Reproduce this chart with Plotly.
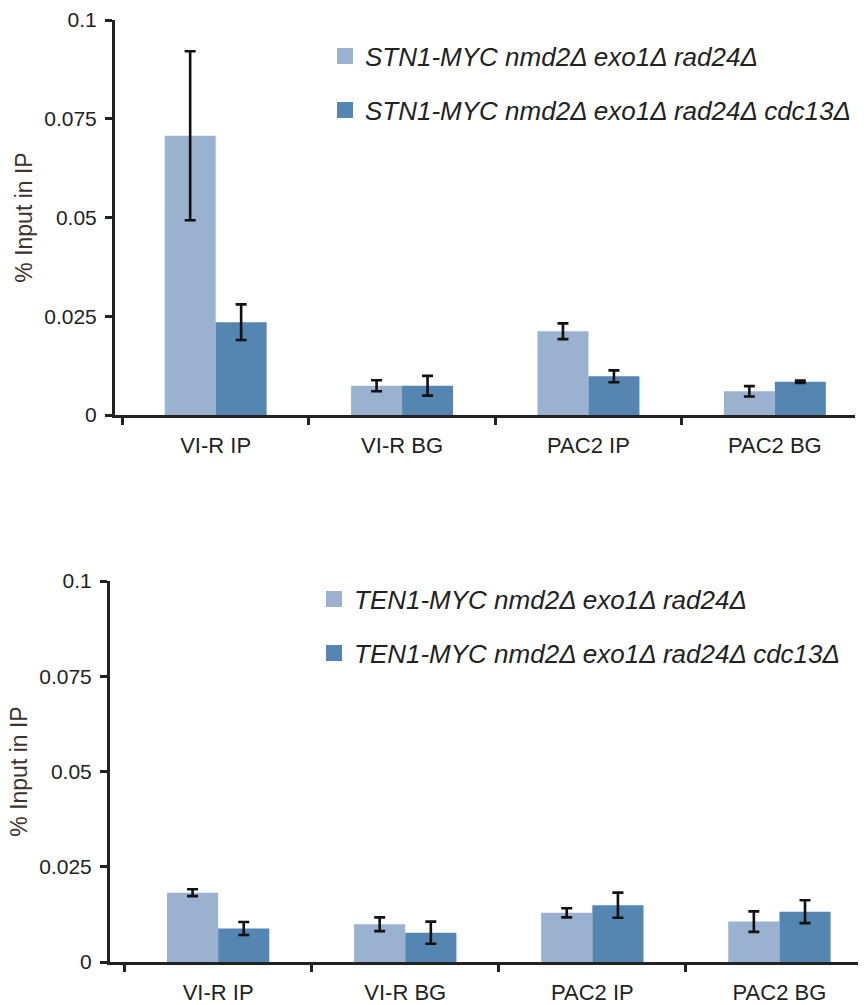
import plotly.graph_objects as go
from plotly.subplots import make_subplots

categories = ["VI-R IP", "VI-R BG", "PAC2 IP", "PAC2 BG"]

# Top panel (STN1-MYC)
stn1_names = ["<i>STN1-MYC nmd2Δ exo1Δ rad24Δ</i>",
              "<i>STN1-MYC nmd2Δ exo1Δ rad24Δ cdc13Δ</i>"]
stn1_ctrl = [0.0707, 0.0074, 0.0212, 0.0060]
stn1_ctrl_err = [0.0214, 0.0014, 0.0020, 0.0013]
stn1_cdc13 = [0.0235, 0.0074, 0.0098, 0.0084]
stn1_cdc13_err = [0.0045, 0.0025, 0.0015, 0.0003]

# Bottom panel (TEN1-MYC)
ten1_names = ["<i>TEN1-MYC nmd2Δ exo1Δ rad24Δ</i>",
              "<i>TEN1-MYC nmd2Δ exo1Δ rad24Δ cdc13Δ</i>"]
ten1_ctrl = [0.0182, 0.0099, 0.0129, 0.0106]
ten1_ctrl_err = [0.0009, 0.0018, 0.0012, 0.0027]
ten1_cdc13 = [0.0088, 0.0077, 0.0149, 0.0132]
ten1_cdc13_err = [0.0017, 0.0029, 0.0033, 0.0030]

y_ticks = [0, 0.025, 0.05, 0.075, 0.1]
y_ticktext = ["0", "0.025", "0.05", "0.075", "0.1"]
y_title = "% Input in IP"

LIGHT = "#9ab2cf"
DARK = "#5585b1"
INK = "#222222"
FONT = "Liberation Sans, Arial, sans-serif"

W, H = 867, 1005

fig = make_subplots(rows=2, cols=1)

panels = [
    (1, stn1_names, stn1_ctrl, stn1_ctrl_err, stn1_cdc13, stn1_cdc13_err, ["legend", "legend2"]),
    (2, ten1_names, ten1_ctrl, ten1_ctrl_err, ten1_cdc13, ten1_cdc13_err, ["legend3", "legend4"]),
]

for row, names, v1, e1, v2, e2, legs in panels:
    for vals, errs, col, nm, leg in [(v1, e1, LIGHT, names[0], legs[0]),
                                     (v2, e2, DARK, names[1], legs[1])]:
        fig.add_trace(go.Bar(
            x=categories, y=vals, marker=dict(color=col, line=dict(width=0)),
            error_y=dict(type="data", array=errs, visible=True, color="#111111",
                         thickness=2.6, width=5.5),
            showlegend=False, name=nm,
        ), row=row, col=1)
        # legend proxy (larger square swatch)
        fig.add_trace(go.Scatter(
            x=[None], y=[None], mode="markers", name=nm,
            marker=dict(symbol="square", size=22, color=col),
            showlegend=True, legend=leg,
        ), row=row, col=1)


def px_x(p):
    return p / W


def px_y(p):
    return 1 - p / H


def leg(xp, yp):
    return dict(x=px_x(xp), y=px_y(yp), xanchor="left", yanchor="middle",
                font=dict(size=26, color=INK), bgcolor="rgba(0,0,0,0)",
                itemwidth=30)


fig.update_layout(
    width=W, height=H,
    margin=dict(l=0, r=0, t=0, b=0),
    paper_bgcolor="white", plot_bgcolor="white",
    barmode="group", bargap=0.453, bargroupgap=0,
    font=dict(family=FONT, color=INK, size=20),
    legend=leg(325, 56),
    legend2=leg(325, 110),
    legend3=leg(314, 599),
    legend4=leg(314, 653),
)

axis_common = dict(showline=True, linecolor=INK, linewidth=3, showgrid=False,
                   zeroline=False, ticks="outside", ticklen=7, tickwidth=2.5,
                   tickcolor=INK, automargin=False)

fig.update_xaxes(**axis_common, type="category", tickson="boundaries",
                 tickfont=dict(size=22, color=INK), ticklabelstandoff=9)
fig.update_xaxes(domain=[px_x(115), px_x(855)], range=[-0.54, 3.43], row=1, col=1)
fig.update_xaxes(domain=[px_x(110), px_x(858)], range=[-0.578, 3.42], row=2, col=1)

fig.update_yaxes(**axis_common, range=[0, 0.1], tickvals=y_ticks,
                 ticktext=y_ticktext, tickfont=dict(size=21, color=INK),
                 title=dict(text=y_title, font=dict(size=23, color="#3d332e"),
                            standoff=6),
                 ticklabelstandoff=4)
fig.update_yaxes(domain=[px_y(415), px_y(20)], row=1, col=1)
fig.update_yaxes(domain=[px_y(962), px_y(581)], row=2, col=1)

fig.write_html("out.html", config={"displayModeBar": False},
               post_script="document.body.style.margin='0';document.body.style.overflow='hidden';")
